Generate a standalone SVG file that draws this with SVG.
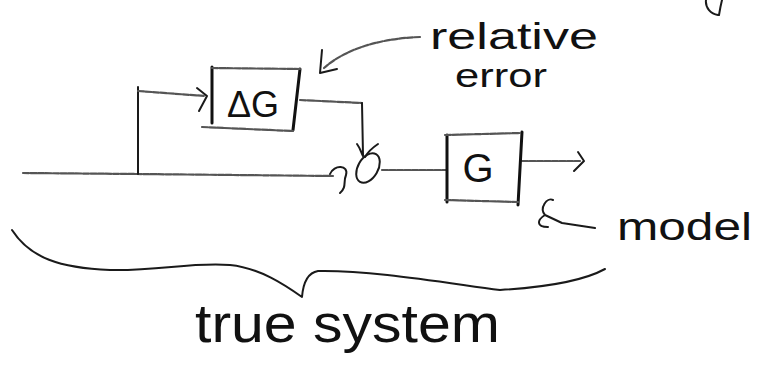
<svg xmlns="http://www.w3.org/2000/svg" width="757" height="367" viewBox="0 0 757 367">
<style>
.ln{fill:none;stroke:#1a1a1a;stroke-width:2;stroke-linecap:round;stroke-linejoin:round}
.lt{fill:none;stroke:#555;stroke-width:2.2;stroke-linecap:round;stroke-dasharray:6 1.5}
.bx{fill:none;stroke:#111;stroke-width:3;stroke-linecap:round}
.tx{font-family:"Liberation Sans",Arial,sans-serif;fill:#111}
</style>
<rect width="757" height="367" fill="#fff"/>
<g id="connectors">
<path class="lt" d="M23,173 L137,174 L333,176"/>
<path class="ln" d="M138,87 L138,174"/>
<path class="lt" d="M138,91 L205,96"/>
<path class="ln" d="M197,88 L207,96 L199,111"/>
<path class="lt" d="M300,100 L362,103"/>
<path class="ln" d="M362,103 L363,155"/>
<path class="ln" d="M357,144 C360,148 361,152 363,156 M378,144 C372,148 368,152 365,157"/>
<path class="ln" d="M330,174 C334,164 349,165 346,175 C343,182 347,187 340,193" stroke-width="3"/>
<path class="lt" d="M382,170 L447,170"/>
<path class="lt" d="M522,161 L580,161"/>
<path class="ln" d="M578,152 L584,161 L574,171"/>
<path class="lt" d="M420,37 C390,38 350,45 324,68"/>
<path class="ln" d="M322,50 L320,73 L337,69"/>
<path class="ln" d="M553,200 C547,197 539,208 545,215 L562,223 L595,228 M545,215 C537,220 536,227 548,227"/>
<path class="ln" d="M12,230 C30,258 60,268 110,270 C160,271 190,262 230,265 C260,268 285,285 302,297 C303,285 306,273 318,271 C370,270 440,282 500,290 C550,287 585,280 605,269"/>
<path class="ln" d="M706,0 C705,8 711,14 718,15 M719,15 C720,9 721,4 722,0" stroke-width="2.5"/>
</g>
<g id="node-deltaG">
<path class="bx" d="M212,67 L212,123 M300,69 L293,130"/>
<path class="lt" d="M212,68 L300,69 M202,127 L293,131"/>
<text class="tx" x="227" y="117" font-size="36">ΔG</text>
</g>
<g id="node-sum">
<ellipse cx="368" cy="168" rx="10" ry="16" transform="rotate(30 368 168)" class="ln" stroke-width="2.5"/>
</g>
<g id="node-G">
<path class="bx" d="M447,135 L447,202 M522,132 L518,205"/>
<path class="lt" d="M445,135 L520,133 M445,200 L518,202"/>
<text class="tx" x="478" y="182" font-size="40" text-anchor="middle">G</text>
</g>
<g id="labels">
<text class="tx" x="430" y="49" font-size="36" textLength="168" lengthAdjust="spacingAndGlyphs">relative</text>
<text class="tx" x="455" y="87" font-size="34" textLength="92" lengthAdjust="spacingAndGlyphs">error</text>
<text class="tx" x="617" y="240" font-size="38" textLength="135" lengthAdjust="spacingAndGlyphs">model</text>
<text class="tx" x="195" y="342" font-size="54" textLength="305" lengthAdjust="spacingAndGlyphs">true system</text>
</g>
</svg>
